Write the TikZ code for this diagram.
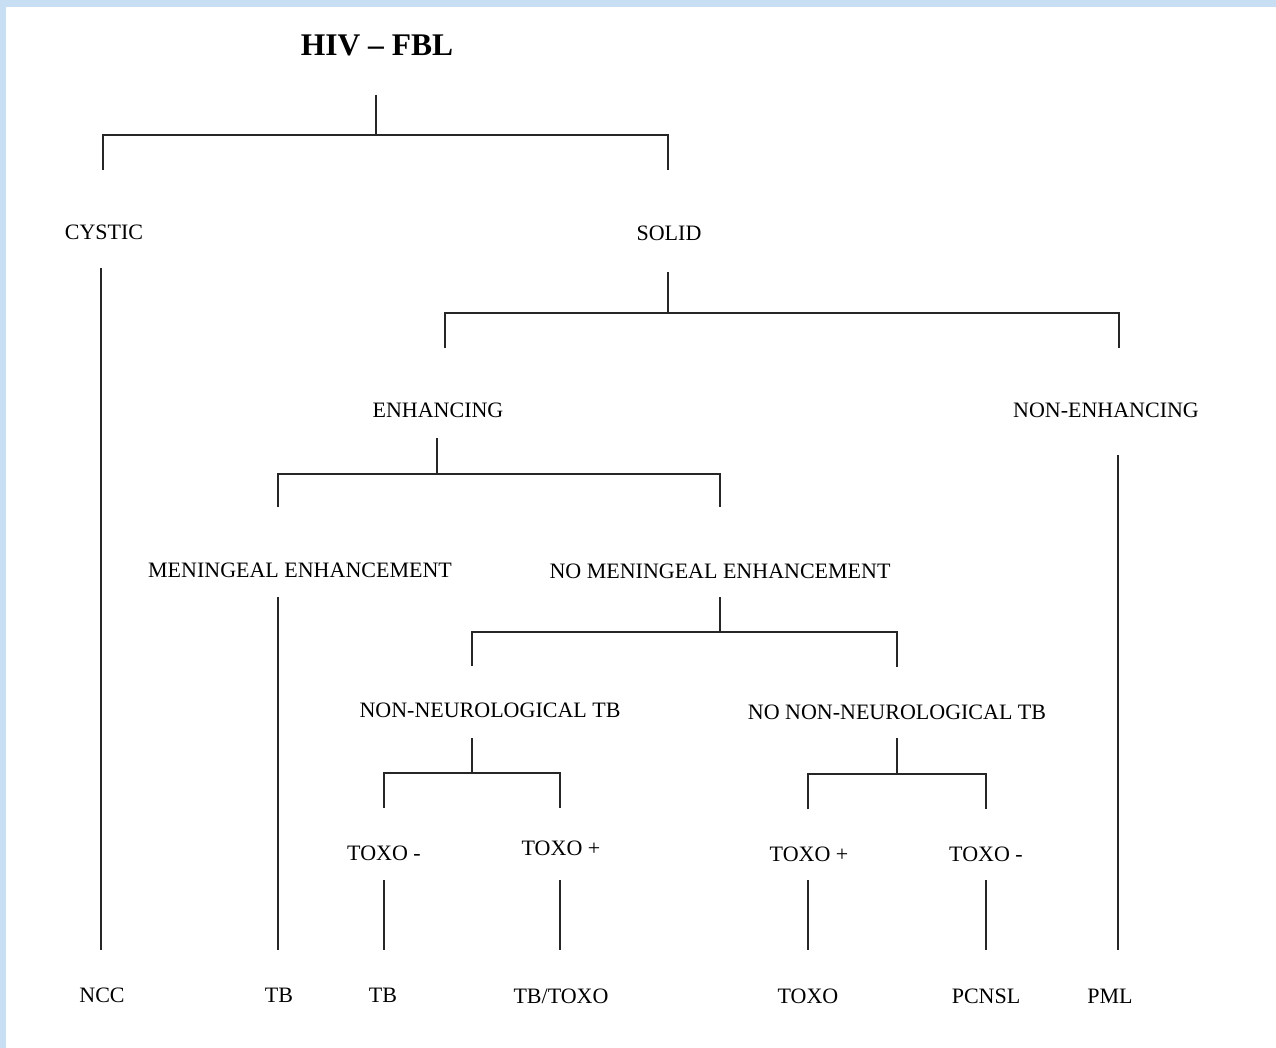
\documentclass[tikz,border=0pt]{standalone}
\usepackage{fontspec}
\setmainfont{Liberation Serif}
\definecolor{frame}{RGB}{200,222,243}
\begin{document}
\begin{tikzpicture}[x=1pt,y=-1pt,
  lbl/.style={inner sep=0pt,font=\fontsize{22}{26}\selectfont},
  ttl/.style={inner sep=0pt,font=\fontsize{31.5}{36}\selectfont\bfseries},
  ln/.style={line width=1.2pt,black!85}]
\fill[frame] (0,0) rectangle (1276,1048);
\fill[white] (6,7) rectangle (1276,1048);
\useasboundingbox (0,0) rectangle (1276,1048);
% nodes
\node[ttl] (hiv) at (377,45) {HIV -- FBL};
\node[lbl] (cystic) at (104,232) {CYSTIC};
\node[lbl] (solid) at (669,233) {SOLID};
\node[lbl] (enh) at (438,410) {ENHANCING};
\node[lbl] (nonenh) at (1106,410) {NON-ENHANCING};
\node[lbl] (men) at (300,570) {MENINGEAL ENHANCEMENT};
\node[lbl] (nomen) at (720,571) {NO MENINGEAL ENHANCEMENT};
\node[lbl] (nnt) at (490,710) {NON-NEUROLOGICAL TB};
\node[lbl] (nonnt) at (897,712) {NO NON-NEUROLOGICAL TB};
\node[lbl] (tm1) at (384,853) {TOXO -};
\node[lbl] (tp1) at (561,848) {TOXO +};
\node[lbl] (tp2) at (809,854) {TOXO +};
\node[lbl] (tm2) at (986,854) {TOXO -};
\node[lbl] (ncc) at (102,995) {NCC};
\node[lbl] (tb1) at (279,995) {TB};
\node[lbl] (tb2) at (383,995) {TB};
\node[lbl] (tbtoxo) at (561,996) {TB/TOXO};
\node[lbl] (toxo) at (808,996) {TOXO};
\node[lbl] (pcnsl) at (986,996) {PCNSL};
\node[lbl] (pml) at (1110,996) {PML};
% branch coordinates
\coordinate (r0) at (376,95); \coordinate (r1) at (376,135);
\coordinate (rL) at (103,135); \coordinate (rLd) at (103,170);
\coordinate (rR) at (668,135); \coordinate (rRd) at (668,170);
\coordinate (s0) at (668,272); \coordinate (s1) at (668,313);
\coordinate (sL) at (445,313); \coordinate (sLd) at (445,348);
\coordinate (sR) at (1119,313); \coordinate (sRd) at (1119,348);
\coordinate (e0) at (437,438); \coordinate (e1) at (437,474);
\coordinate (eL) at (278,474); \coordinate (eLd) at (278,507);
\coordinate (eR) at (720,474); \coordinate (eRd) at (720,507);
\coordinate (m0) at (720,597); \coordinate (m1) at (720,632);
\coordinate (mL) at (472,632); \coordinate (mLd) at (472,666);
\coordinate (mR) at (897,632); \coordinate (mRd) at (897,667);
\coordinate (n0) at (472,738); \coordinate (n1) at (472,773);
\coordinate (nL) at (384,773); \coordinate (nLd) at (384,808);
\coordinate (nR) at (560,773); \coordinate (nRd) at (560,808);
\coordinate (o0) at (897,738); \coordinate (o1) at (897,774);
\coordinate (oL) at (808,774); \coordinate (oLd) at (808,809);
\coordinate (oR) at (986,774); \coordinate (oRd) at (986,809);
% connectors
\draw[ln] (r0) -- (r1);
\draw[ln] (rLd) -- (rL) -- (rR) -- (rRd);
\draw[ln] (s0) -- (s1);
\draw[ln] (sLd) -- (sL) -- (sR) -- (sRd);
\draw[ln] (e0) -- (e1);
\draw[ln] (eLd) -- (eL) -- (eR) -- (eRd);
\draw[ln] (m0) -- (m1);
\draw[ln] (mLd) -- (mL) -- (mR) -- (mRd);
\draw[ln] (n0) -- (n1);
\draw[ln] (nLd) -- (nL) -- (nR) -- (nRd);
\draw[ln] (o0) -- (o1);
\draw[ln] (oLd) -- (oL) -- (oR) -- (oRd);
% leaf connectors
\draw[ln] (101,268) -- (101,950);
\draw[ln] (1118,455) -- (1118,950);
\draw[ln] (278,597) -- (278,950);
\draw[ln] (384,880) -- (384,950);
\draw[ln] (560,880) -- (560,950);
\draw[ln] (808,880) -- (808,950);
\draw[ln] (986,880) -- (986,950);
\end{tikzpicture}
\end{document}
